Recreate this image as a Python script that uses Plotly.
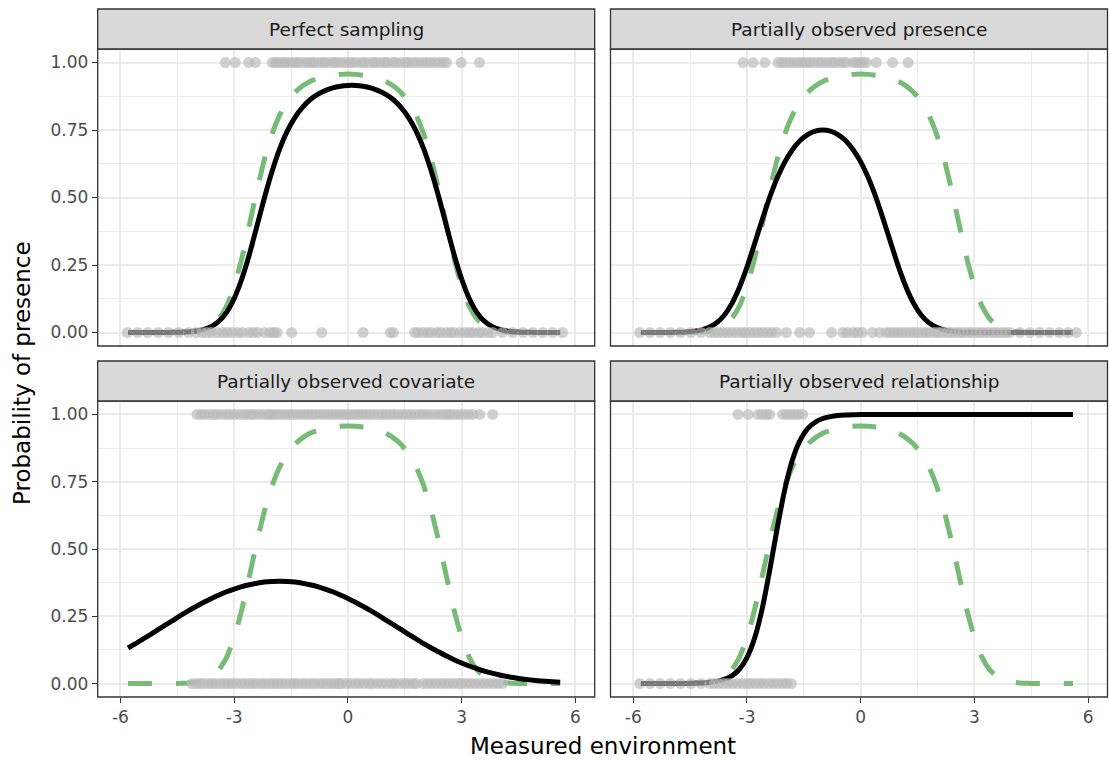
import plotly.graph_objects as go
from plotly.subplots import make_subplots

W, H = 1109, 761

panel_titles = [
    "Perfect sampling",
    "Partially observed presence",
    "Partially observed covariate",
    "Partially observed relationship",
]

# Environment values at which the response curves are drawn
env_grid = [
    -5.8, -5.6, -5.4, -5.2, -5.0, -4.8, -4.6, -4.4, -4.2, -4.0,
    -3.8, -3.6, -3.4, -3.2, -3.0, -2.8, -2.6, -2.4, -2.2, -2.0,
    -1.8, -1.6, -1.4, -1.2, -1.0, -0.8, -0.6, -0.4, -0.2, 0.0,
    0.2, 0.4, 0.6, 0.8, 1.0, 1.2, 1.4, 1.6, 1.8, 2.0,
    2.2, 2.4, 2.6, 2.8, 3.0, 3.2, 3.4, 3.6, 3.8, 4.0,
    4.2, 4.4, 4.6, 4.8, 5.0, 5.2, 5.4, 5.6,
]

# True probability of presence (same in every panel)
true_prob = [
    0.0, 0.0, 0.0, 0.0, 0.0001, 0.0001, 0.0004, 0.0009, 0.0023, 0.0054,
    0.0120, 0.0256, 0.0516, 0.0976, 0.171, 0.274, 0.398, 0.526, 0.642, 0.735,
    0.805, 0.854, 0.889, 0.913, 0.930, 0.941, 0.949, 0.953, 0.956, 0.957,
    0.956, 0.953, 0.949, 0.941, 0.930, 0.913, 0.889, 0.854, 0.805, 0.735,
    0.642, 0.526, 0.398, 0.274, 0.171, 0.0976, 0.0516, 0.0256, 0.0120, 0.0054,
    0.0023, 0.0009, 0.0004, 0.0001, 0.0001, 0.0, 0.0, 0.0,
]

# Fitted probability of presence, one series per sampling scenario
fit_perfect = [
    0.0, 0.0, 0.0, 0.0, 0.0001, 0.0002, 0.0005, 0.0012, 0.0027, 0.0056,
    0.0115, 0.0225, 0.0421, 0.0748, 0.126, 0.198, 0.289, 0.394, 0.500, 0.597,
    0.680, 0.746, 0.796, 0.834, 0.862, 0.882, 0.896, 0.906, 0.912, 0.915,
    0.915, 0.912, 0.906, 0.896, 0.882, 0.862, 0.834, 0.796, 0.746, 0.680,
    0.597, 0.500, 0.394, 0.289, 0.198, 0.126, 0.0748, 0.0421, 0.0225, 0.0115,
    0.0056, 0.0027, 0.0012, 0.0005, 0.0002, 0.0001, 0.0, 0.0,
]
fit_presence = [
    0.0, 0.0, 0.0001, 0.0002, 0.0004, 0.0009, 0.0021, 0.0046, 0.0096, 0.0191,
    0.0359, 0.0638, 0.107, 0.167, 0.242, 0.329, 0.417, 0.501, 0.573, 0.632,
    0.677, 0.711, 0.733, 0.746, 0.750, 0.746, 0.733, 0.711, 0.677, 0.632,
    0.573, 0.501, 0.417, 0.329, 0.242, 0.167, 0.107, 0.0638, 0.0359, 0.0191,
    0.0096, 0.0046, 0.0021, 0.0009, 0.0004, 0.0002, 0.0001, 0.0, 0.0, 0.0,
    0.0, 0.0, 0.0, 0.0, 0.0, 0.0, 0.0, 0.0,
]
fit_covariate = [
    0.132, 0.148, 0.166, 0.183, 0.201, 0.219, 0.236, 0.254, 0.271, 0.287,
    0.302, 0.316, 0.329, 0.341, 0.351, 0.360, 0.367, 0.373, 0.377, 0.379,
    0.380, 0.379, 0.377, 0.373, 0.367, 0.360, 0.351, 0.341, 0.329, 0.316,
    0.302, 0.287, 0.271, 0.254, 0.236, 0.219, 0.201, 0.183, 0.166, 0.148,
    0.132, 0.117, 0.102, 0.0886, 0.0762, 0.0651, 0.0551, 0.0462, 0.0385, 0.0318,
    0.0260, 0.0212, 0.0171, 0.0137, 0.0108, 0.0086, 0.0067, 0.0052,
]
fit_relationship = [
    0.0, 0.0, 0.0, 0.0001, 0.0002, 0.0003, 0.0006, 0.0012, 0.0023, 0.0043,
    0.0082, 0.0154, 0.0287, 0.0531, 0.0962, 0.168, 0.277, 0.421, 0.579, 0.723,
    0.832, 0.904, 0.947, 0.971, 0.985, 0.992, 0.996, 0.998, 0.999, 1.0,
    1.0, 1.0, 1.0, 1.0, 1.0, 1.0, 1.0, 1.0, 1.0, 1.0,
    1.0, 1.0, 1.0, 1.0, 1.0, 1.0, 1.0, 1.0, 1.0, 1.0,
    1.0, 1.0, 1.0, 1.0, 1.0, 1.0, 1.0, 1.0,
]

# Observed environment at sites with detected presence (1) and absence (0)
pres_perfect = [
    -3.23, -2.97, -2.62, -2.44, -2.0, -1.92, -1.85, -1.74, -1.66, -1.58,
    -1.47, -1.38, -1.3, -1.19, -1.08, -0.98, -0.9, -0.79, -0.68, -0.6,
    -0.49, -0.38, -0.3, -0.2, -0.08, 0.03, 0.12, 0.22, 0.35, 0.43,
    0.55, 0.66, 0.74, 0.85, 0.96, 1.05, 1.18, 1.27, 1.4, 1.52,
    1.6, 1.72, 1.83, 1.95, 2.07, 2.18, 2.3, 2.42, 2.52, 2.6, 2.99, 3.47,
]
abs_perfect = [
    -5.82, -5.55, -5.28, -5.0, -4.73, -4.46, -4.2,
    -4.0, -3.85, -3.72, -3.6, -3.45, -3.3, -3.18,
    -3.05, -2.9, -2.78, -2.62, -2.5, -2.38, -2.2, -2.05, -1.95, -1.87,
    -1.48, -0.69, 0.4, 1.12, 1.2,
    1.76, 1.85, 1.98, 2.1, 2.2, 2.35, 2.45, 2.6, 2.72, 2.8,
    2.95, 3.08, 3.2, 3.3, 3.45, 3.55, 3.7, 3.82,
    4.08, 4.35, 4.62, 4.88, 5.14, 5.4, 5.66,
]
pres_presence = [
    -3.1, -2.84, -2.53, -2.18, -2.08, -1.98, -1.88, -1.78, -1.66, -1.56,
    -1.45, -1.35, -1.25, -1.12, -1.02, -0.9, -0.78, -0.68, -0.55, -0.45,
    -0.38, -0.2, -0.11, -0.02, 0.07, 0.15, 0.41, 0.84, 1.25,
]
abs_presence = [
    -5.83, -5.56, -5.29, -5.02, -4.75, -4.48, -4.21,
    -3.98, -3.86, -3.75, -3.63, -3.52, -3.4, -3.28,
    -3.15, -3.05, -2.92, -2.8, -2.7, -2.58, -2.46, -2.35, -2.22,
    -1.96, -1.61, -1.35, -0.77, -0.47, -0.35, -0.2, -0.08, 0.05, 0.32, 0.5,
    0.68, 0.78, 0.88, 0.98, 1.08, 1.18, 1.3, 1.4, 1.5, 1.62,
    1.72, 1.82, 1.95, 2.05, 2.15, 2.28, 2.38, 2.5, 2.6, 2.7,
    2.82, 2.92, 3.05, 3.15, 3.25, 3.38, 3.5, 3.6, 3.72, 3.82, 3.93,
    4.2, 4.46, 4.72, 4.98, 5.24, 5.47, 5.69,
]
pres_covariate = [
    -3.98, -3.88, -3.78, -3.66, -3.55, -3.45, -3.32, -3.2, -3.1, -2.98,
    -2.86, -2.75, -2.65, -2.56, -2.48, -2.36, -2.24, -2.12, -2.05, -1.96,
    -1.86, -1.76, -1.65, -1.55, -1.45, -1.35, -1.25, -1.14, -1.04, -0.94,
    -0.84, -0.72, -0.62, -0.52, -0.42, -0.32, -0.22, -0.12, -0.02, 0.08,
    0.18, 0.28, 0.38, 0.48, 0.58, 0.68, 0.8, 0.92, 1.01, 1.12,
    1.22, 1.34, 1.45, 1.55, 1.66, 1.78, 1.9, 2.0, 2.12, 2.25,
    2.38, 2.5, 2.6, 2.69, 2.8, 2.92, 3.05, 3.18, 3.3, 3.48, 3.82,
]
abs_covariate = [
    -4.11, -4.0, -3.9, -3.8, -3.68, -3.58, -3.48, -3.36, -3.25, -3.15,
    -3.05, -2.94, -2.82, -2.72, -2.6, -2.5, -2.4, -2.28, -2.18, -2.06,
    -1.96, -1.85, -1.75, -1.64, -1.52, -1.42, -1.32, -1.2, -1.1, -0.98,
    -0.88, -0.76, -0.66, -0.55, -0.44, -0.34, -0.24, -0.17, -0.04, 0.08,
    0.2, 0.3, 0.42, 0.55, 0.65, 0.78, 0.9, 1.02, 1.15, 1.25,
    1.38, 1.5, 1.6, 1.72, 1.8, 1.98, 2.1, 2.2, 2.32, 2.44,
    2.55, 2.66, 2.78, 2.9, 3.0, 3.12, 3.24, 3.36, 3.48, 3.6,
    3.72, 3.84, 3.96, 4.08,
]
pres_relationship = [
    -3.24, -2.97, -2.71, -2.6, -2.48, -2.4, -2.06, -1.95, -1.85, -1.75,
    -1.65, -1.53,
]
abs_relationship = [
    -5.83, -5.56, -5.29, -5.02, -4.75, -4.48, -4.21,
    -3.98, -3.86, -3.74, -3.62, -3.5, -3.38, -3.25,
    -3.12, -3.0, -2.9, -2.78, -2.66, -2.55, -2.42, -2.3, -2.18, -2.06,
    -1.95, -1.83,
]

x_ticks = [-6, -3, 0, 3, 6]
x_tick_labels = ["-6", "-3", "0", "3", "6"]
y_ticks = [0, 0.25, 0.5, 0.75, 1.0]
y_tick_labels = ["0.00", "0.25", "0.50", "0.75", "1.00"]

FONT = "DejaVu Sans"
GREEN = "#77BB77"
POINT = "rgba(185,185,185,0.66)"
GRID = "#EBEBEB"
DARK = "#333333"

panels = [
    (1, 1, fit_perfect, pres_perfect, abs_perfect),
    (1, 2, fit_presence, pres_presence, abs_presence),
    (2, 1, fit_covariate, pres_covariate, abs_covariate),
    (2, 2, fit_relationship, pres_relationship, abs_relationship),
]

fig = make_subplots(rows=2, cols=2)

# Draw order: true curve, fitted curve, then the observations on top
for r, c, fitted, pres, absn in panels:
    fig.add_trace(go.Scatter(
        x=env_grid, y=true_prob, mode="lines",
        line=dict(color=GREEN, width=5, dash="24px,24px",
                  shape="spline", smoothing=0.6),
        hoverinfo="skip", showlegend=False), row=r, col=c)
    fig.add_trace(go.Scatter(
        x=env_grid, y=fitted, mode="lines",
        line=dict(color="black", width=5, shape="spline", smoothing=0.6),
        hoverinfo="skip", showlegend=False), row=r, col=c)
    fig.add_trace(go.Scatter(
        x=pres + absn, y=[1] * len(pres) + [0] * len(absn), mode="markers",
        marker=dict(size=11, color=POINT, line=dict(width=0)),
        hoverinfo="skip", showlegend=False), row=r, col=c)

# Panel geometry in pixels
col_px = [(97.7, 594.7), (610.5, 1107.5)]
row_px = [(49.0, 346.0), (401.0, 697.0)]
strip_h = 40.0
x_range = [-6.6, 6.51]
y_range = [-0.05, 1.05]

shapes = []
annotations = []
for idx, (r, c, *_rest) in enumerate(panels):
    k = "" if idx == 0 else str(idx + 1)
    x0p, x1p = col_px[c - 1]
    y0p, y1p = row_px[r - 1]
    bottom = r == 2
    left = c == 1
    fig.layout["xaxis" + k].update(
        domain=[x0p / W, x1p / W], range=x_range,
        tickvals=x_ticks, ticktext=x_tick_labels,
        showgrid=True, gridcolor=GRID, gridwidth=2, zeroline=False,
        showline=False,
        minor=dict(tick0=1.5, dtick=3, showgrid=True, gridcolor=GRID,
                   gridwidth=1),
        ticks="outside" if bottom else "", ticklen=5, tickwidth=1.2,
        tickcolor=DARK, showticklabels=bottom,
        tickfont=dict(family=FONT, size=17, color="#4D4D4D"),
    )
    fig.layout["yaxis" + k].update(
        domain=[1 - y1p / H, 1 - y0p / H], range=y_range,
        tickvals=y_ticks, ticktext=y_tick_labels,
        showgrid=True, gridcolor=GRID, gridwidth=2, zeroline=False,
        showline=False,
        minor=dict(tick0=0.125, dtick=0.25, showgrid=True, gridcolor=GRID,
                   gridwidth=1),
        ticks="outside" if left else "", ticklen=5, tickwidth=1.2,
        tickcolor=DARK, showticklabels=left,
        tickfont=dict(family=FONT, size=17, color="#4D4D4D"),
    )
    # panel border
    shapes.append(dict(type="rect", xref="paper", yref="paper",
                       x0=x0p / W, x1=x1p / W, y0=1 - y1p / H, y1=1 - y0p / H,
                       line=dict(color=DARK, width=1.3), layer="above"))
    # facet strip
    shapes.append(dict(type="rect", xref="paper", yref="paper",
                       x0=x0p / W, x1=x1p / W,
                       y0=1 - y0p / H, y1=1 - (y0p - strip_h) / H,
                       fillcolor="#D9D9D9",
                       line=dict(color=DARK, width=1.3), layer="above"))
    annotations.append(dict(text=panel_titles[idx], xref="paper", yref="paper",
                            x=(x0p + x1p) / 2 / W,
                            y=1 - (y0p - strip_h / 2) / H,
                            xanchor="center", yanchor="middle", showarrow=False,
                            font=dict(family=FONT, size=18.5, color="#1A1A1A")))

annotations.append(dict(text="Measured environment", xref="paper", yref="paper",
                        x=602.6 / W, y=1 - 746 / H, xanchor="center",
                        yanchor="middle", showarrow=False,
                        font=dict(family=FONT, size=23, color="black")))
annotations.append(dict(text="Probability of presence", xref="paper",
                        yref="paper", x=22 / W, y=1 - 373 / H,
                        xanchor="center", yanchor="middle", textangle=-90,
                        showarrow=False,
                        font=dict(family=FONT, size=23, color="black")))

fig.update_layout(
    width=W, height=H, margin=dict(l=0, r=0, t=0, b=0),
    paper_bgcolor="white", plot_bgcolor="white",
    shapes=shapes, annotations=annotations, showlegend=False,
    font=dict(family=FONT),
)

fig.write_html("out.html")
